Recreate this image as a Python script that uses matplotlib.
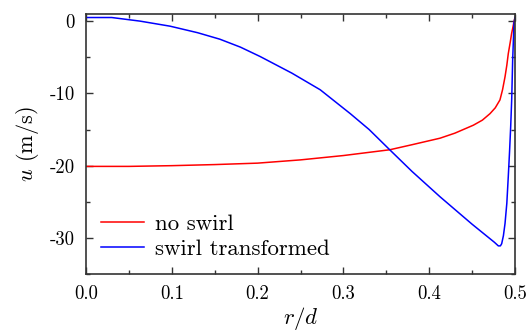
import matplotlib
matplotlib.use("Agg")
import matplotlib.pyplot as plt
from matplotlib.ticker import MultipleLocator

# radial profiles of axial velocity
r_noswirl = [0.0, 0.05, 0.1, 0.15, 0.2, 0.25, 0.3, 0.354, 0.38, 0.4126, 0.43,
             0.4515, 0.462, 0.4709, 0.477, 0.4825, 0.4855, 0.4884, 0.4905,
             0.4922, 0.4945, 0.4961, 0.4975, 0.4988, 0.5]
u_noswirl = [-20.1, -20.1, -20.0, -19.85, -19.65, -19.2, -18.6, -17.8, -17.1,
             -16.2, -15.5, -14.4, -13.7, -12.8, -12.0, -10.9, -9.5, -7.7, -6.1,
             -4.5, -2.9, -1.7, -0.9, -0.1, 0.5]

r_swirl = [0.0, 0.03, 0.063, 0.098, 0.13, 0.156, 0.18, 0.203, 0.24, 0.273, 0.308,
           0.33, 0.354, 0.38, 0.4126, 0.45, 0.476, 0.4806, 0.4830, 0.4845,
           0.4865, 0.4884, 0.4905, 0.4922, 0.4937, 0.495, 0.4962, 0.4973,
           0.4982, 0.4988, 0.5]
u_swirl = [0.5, 0.5, 0.0, -0.7, -1.6, -2.5, -3.6, -4.9, -7.2, -9.5, -12.8, -15.0,
           -17.8, -20.8, -24.3, -28.1, -30.6, -31.1, -31.1, -30.8, -29.7, -28.0,
           -25.2, -21.5, -18.0, -14.6, -10.8, -5.4, -2.5, -0.3, 0.5]

plt.rcParams['font.family'] = ['cmr10', 'DejaVu Serif']
plt.rcParams['mathtext.fontset'] = 'cm'
plt.rcParams['axes.unicode_minus'] = False
plt.rcParams['axes.formatter.use_mathtext'] = True
plt.rcParams['font.size'] = 13.5


def main():
    fig = plt.figure(figsize=(5.32, 3.31), dpi=100)
    ax = fig.add_axes([0.1617, 0.172, 0.8063, 0.786])

    ax.plot(r_noswirl, u_noswirl, color='red', lw=1.1, label='no swirl')
    ax.plot(r_swirl, u_swirl, color='blue', lw=1.1, label='swirl transformed')

    ax.set_xlim(0, 0.5)
    ax.set_ylim(-35, 1)
    ax.xaxis.set_major_locator(MultipleLocator(0.1))
    ax.xaxis.set_minor_locator(MultipleLocator(0.05))
    ax.yaxis.set_major_locator(MultipleLocator(10))
    ax.yaxis.set_minor_locator(MultipleLocator(5))
    ax.xaxis.set_major_formatter(plt.FuncFormatter(lambda v, p: f"{v:.1f}"))
    ax.yaxis.set_major_formatter(plt.FuncFormatter(lambda v, p: f"{v:.0f}"))
    ax.tick_params(which='both', direction='in', top=True, right=True,
                   color='#333333')
    ax.tick_params(which='major', length=5, width=1)
    ax.tick_params(which='minor', length=3, width=1)
    ax.tick_params(axis='x', which='major', pad=8)
    ax.tick_params(axis='y', which='major', pad=8)
    for s in ax.spines.values():
        s.set_color('#333333')
        s.set_linewidth(1.2)

    ax.set_xlabel('$r/d$', fontsize=16.5, labelpad=1.5)
    ax.set_ylabel('$u$ (m/s)', fontsize=16, labelpad=6)

    ax.legend(loc='lower left', frameon=False, handlelength=1.9,
              borderaxespad=0.3, borderpad=0.35, handletextpad=0.45,
              labelspacing=0.22, fontsize=16.5)

    fig.savefig('out.png', dpi=100)


if __name__ == "__main__":
    main()
